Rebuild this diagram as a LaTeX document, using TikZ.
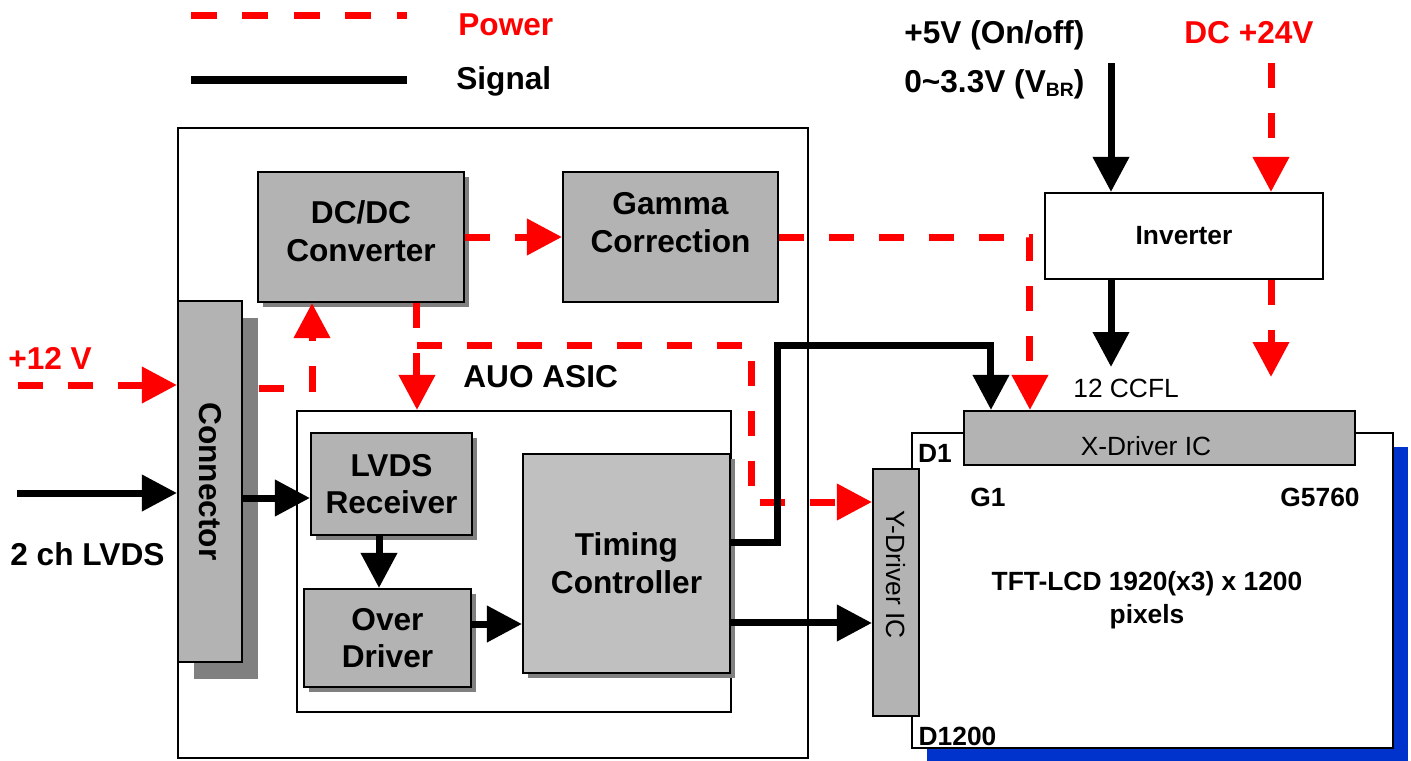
\documentclass[tikz,border=0pt]{standalone}
\usepackage{fontspec}
\setmainfont{Liberation Sans}
\usetikzlibrary{arrows.meta,shadows}

\definecolor{rojo}{RGB}{255,0,0}
\definecolor{gris}{RGB}{179,179,179}
\definecolor{grisclaro}{RGB}{192,192,192}
\definecolor{sombra}{RGB}{128,128,128}
\definecolor{azul}{RGB}{0,51,204}

\begin{document}
\begin{tikzpicture}[x=0.02cm,y=-0.02cm,
    grande/.style={font=\fontsize{18}{21.5}\selectfont\bfseries},
    chica/.style={font=\fontsize{15}{18.7}\selectfont},
    texto/.style={inner sep=0pt,grande},
    etiqueta/.style={inner sep=0pt,font=\fontsize{15}{18.7}\selectfont\bfseries},
    caja/.style={draw,line width=1.2pt,fill=gris,inner sep=0pt,align=center,grande},
    sombreada/.style={caja,drop shadow={shadow xshift=0.1cm,shadow yshift=-0.1cm,fill=sombra,opacity=1}},
    marco/.style={draw,fill=white,inner sep=0pt},
    linea roja/.style={rojo,line width=0.14cm,dash pattern=on 0.5cm off 0.5cm},
    potencia/.style={linea roja,-{Triangle[length=0.7cm,width=0.7cm]}},
    senal/.style={line width=0.14cm,-{Triangle[length=0.7cm,width=0.7cm]}}]
    \useasboundingbox (0,0) rectangle (1411,761);
    % Leyenda
    \coordinate (lp1) at (191,15);
    \coordinate (lp2) at (407,15);
    \coordinate (ls1) at (191,80);
    \coordinate (ls2) at (407,80);
    \draw[linea roja,dash pattern=on 0.52cm off 0.51cm] (lp1) -- (lp2);
    \draw[line width=0.16cm] (ls1) -- (ls2);
    \node[texto,anchor=base west,text=rojo] (power) at (458,35) {Power};
    \node[texto,anchor=base west] (signal) at (456,89) {Signal};
    % Modulo y ASIC
    \node[marco,line width=0.8pt,minimum width=12.6cm,minimum height=12.6cm] (modulo) at (493,443) {};
    \node[marco,line width=1.2pt,minimum width=8.68cm,minimum height=6.02cm] (asic) at (514,561.5) {};
    \node[texto,anchor=base west] (asiclbl) at (463,387) {AUO ASIC};
    % Bloques
    \node[sombreada,minimum width=4.12cm,minimum height=2.6cm,
      label={[align=center,grande,yshift=0.12cm]center:{DC/DC\\Converter}}] (dcdc) at (361,237) {};
    \node[caja,minimum width=4.3cm,minimum height=2.6cm,
      label={[align=center,grande,yshift=0.29cm]center:{Gamma\\Correction}}] (gamma) at (670.5,237) {};
    \node[sombreada,minimum width=3.22cm,minimum height=2.04cm] (lvds) at (391.5,484) {LVDS\\Receiver};
    \node[sombreada,minimum width=3.34cm,minimum height=1.96cm] (over) at (387.5,638) {Over\\Driver};
    \node[sombreada,fill=grisclaro,minimum width=4.14cm,minimum height=4.38cm] (tcon) at (626.5,563.5) {Timing\\Controller};
    \node[caja,minimum width=1.28cm,minimum height=7.22cm,
      drop shadow={shadow xshift=0.32cm,shadow yshift=-0.34cm,fill=sombra,opacity=1}] (conn) at (210,481.5) {\rotatebox{-90}{Connector}};
    \node[marco,line width=1.2pt,minimum width=5.56cm,minimum height=1.72cm,
      font=\fontsize{15}{18}\selectfont\bfseries] (inv) at (1184,236) {Inverter\hspace{0.72cm}};
    % Panel
    \node[marco,line width=1.2pt,minimum width=9.62cm,minimum height=6.3cm,
      drop shadow={shadow xshift=0.3cm,shadow yshift=-0.28cm,fill=azul,opacity=1}] (panel) at (1152.5,590.5) {};
    \node[caja,minimum width=7.82cm,minimum height=1.08cm,
      label={[chica,inner sep=0pt,xshift=-0.27cm,yshift=-0.16cm]center:X-Driver IC}] (xdrv) at (1159.5,438) {};
    \node[caja,chica,minimum width=0.92cm,minimum height=4.94cm] (ydrv) at (896,592.5) {\rotatebox{-90}{Y-Driver IC\hspace{0.72cm}}};
    \node[etiqueta,align=center] (tft) at (1147,600) {TFT-LCD 1920(x3) x 1200\\pixels};
    \node[etiqueta] (d1) at (935,453) {D1};
    \node[etiqueta] (d1200) at (957.5,736) {D1200};
    \node[etiqueta] (g1) at (988,497) {G1};
    \node[etiqueta] (g5760) at (1320,497) {G5760};
    \node[inner sep=0pt,chica,anchor=base west] (ccfl) at (1073,397) {12 CCFL};
    % Textos de entrada
    \node[texto,anchor=base west] (on) at (904,43) {+5V (On/off)};
    \node[texto,anchor=base west] (vbr) at (904,92) {0\textasciitilde3.3V (V\raisebox{-0.08cm}{\fontsize{11}{11}\selectfont BR})};
    \node[texto,anchor=base west,text=rojo] (dc24) at (1184,43) {DC +24V};
    \node[texto,anchor=base west,text=rojo] (v12) at (8,369) {+12 V};
    \node[texto,anchor=base west] (lvdsin) at (10,565) {2 ch LVDS};
    % Puntos de apoyo
    \coordinate (e12) at (18,385);
    \coordinate (elvds) at (17,493);
    \coordinate (e5) at (1111,63);
    \coordinate (e24) at (1271,63);
    \coordinate (ccfl1) at (1111,367);
    \coordinate (ccfl2) at (1271,377);
    \coordinate (r1) at ([xshift=1.12cm]dcdc.south);
    \coordinate (r2) at (417,345);
    \coordinate (r3) at (751,502);
    \coordinate (s0) at ([yshift=-0.33cm]conn.east);
    \coordinate (s1) at (777,345);
    \coordinate (s2) at ([xshift=-0.25cm]lvds.south);
    \coordinate (s3) at ([yshift=0.28cm]over.east);
    \coordinate (s4) at ([yshift=0.43cm]tcon.east);
    \coordinate (s5) at ([yshift=-1.19cm]tcon.east);
    % Alimentacion
    \draw[potencia] (e12) -- (e12 -| conn.west);
    \draw[potencia] ([xshift=0.32cm,yshift=1.87cm]conn.east) -| ([xshift=-0.98cm]dcdc.south);
    \draw[potencia] (dcdc.east) -- (gamma.west);
    \draw[potencia] (r1) -- (r1 |- asic.north);
    \draw[potencia] (r2) -| (r3) -- (r3 -| ydrv.west);
    \draw[potencia] (gamma.east) -| ([xshift=1.34cm]xdrv.north west);
    \draw[potencia] (e24) -- (e24 |- inv.north);
    \draw[potencia] (e24 |- inv.south) -- (ccfl2);
    % Senales
    \draw[senal] (elvds) -- (elvds -| conn.west);
    \draw[senal] (s0) -- (s0 -| lvds.west);
    \draw[senal] (s2) -- (s2 |- over.north);
    \draw[senal] (s3) -- (s3 -| tcon.west);
    \draw[senal] (s4) -| (s1) -| ([xshift=0.56cm]xdrv.north west);
    \draw[senal] (s5) -- (s5 -| ydrv.west);
    \draw[senal] (e5) -- (e5 |- inv.north);
    \draw[senal] (e5 |- inv.south) -- (ccfl1);
\end{tikzpicture}
\end{document}
